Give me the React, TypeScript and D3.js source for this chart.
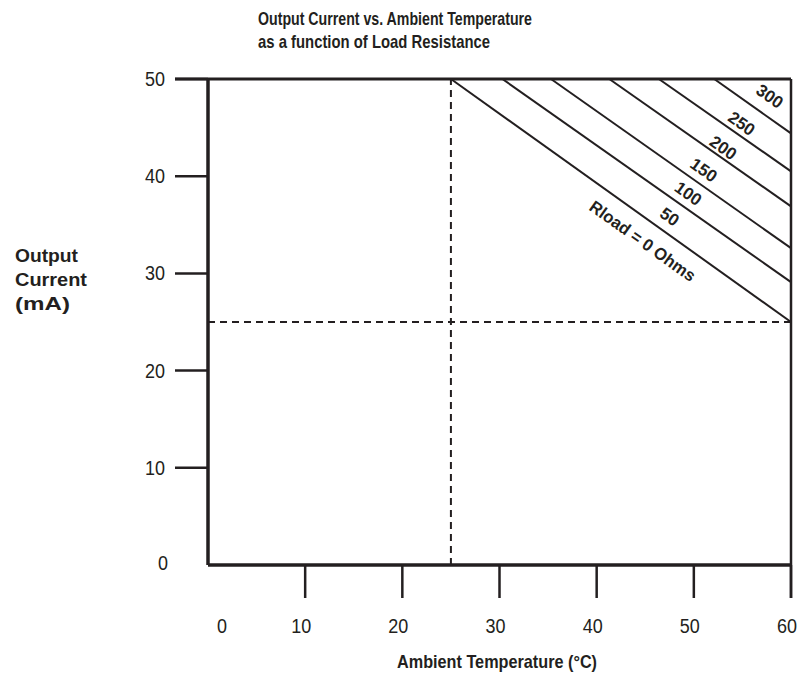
import React from "react";
import * as d3 from "d3";

const xTickValues = [0, 10, 20, 30, 40, 50, 60];
const yTickValues = [0, 10, 20, 30, 40, 50];

// Each load-resistance boundary: temperature where it meets 50 mA, and current at 60 °C
const rloadStartTemp = [25, 30.3, 35.3, 41.3, 46.4, 52.1];
const rloadEndCurrent = [25, 29.1, 32.6, 36.9, 40.5, 44.4];

const labelText = ["Rload = 0 Ohms", "50", "100", "150", "200", "250", "300"];
const labelTemp = [44.7, 47.5, 49.4, 51.0, 53.0, 54.9, 57.8];
const labelCurrent = [33.3, 35.8, 38.2, 40.6, 42.9, 45.4, 48.2];

const deratingTemp = 25;
const deratingCurrent = 25;

const titleLines = ["Output Current vs. Ambient Temperature", "as a function of Load Resistance"];
const yLabelLines = ["Output", "Current", "(mA)"];
const xLabel = "Ambient Temperature (°C)";

const FONT = "'Liberation Sans', Arial, Helvetica, sans-serif";
const INK = "#231f20";

export default function App() {
  const W = 799, H = 680;
  const x = d3.scaleLinear().domain([0, 60]).range([208, 791]);
  const y = d3.scaleLinear().domain([0, 50]).range([565, 79]);
  const line = d3.line<[number, number]>().x(d => x(d[0])).y(d => y(d[1]));

  const angle = (Math.atan2(y(25) - y(50), x(60) - x(25)) * 180) / Math.PI;

  return (
    <svg width={W} height={H} style={{ position: "absolute", left: 0, top: 0, background: "#fff" }} fontFamily={FONT}>
      {/* title */}
      <text x={258} y={25} fontSize={18.5} fontWeight="bold" fill={INK} textLength={274} lengthAdjust="spacingAndGlyphs">{titleLines[0]}</text>
      <text x={258} y={48} fontSize={18.5} fontWeight="bold" fill={INK} textLength={232} lengthAdjust="spacingAndGlyphs">{titleLines[1]}</text>

      {/* y label */}
      {yLabelLines.map((t, i) => (
        <text key={t} x={15} y={262 + i * 24} fontSize={19} fontWeight="bold" fill={INK}
          textLength={[63, 72, 55][i]} lengthAdjust="spacingAndGlyphs">{t}</text>
      ))}

      {/* x label */}
      <text x={397} y={668} fontSize={19} fontWeight="bold" fill={INK} textLength={200} lengthAdjust="spacingAndGlyphs">{xLabel}</text>

      {/* dashed derating lines */}
      <path d={line([[deratingTemp, 0], [deratingTemp, 50]]) || ""} stroke={INK} strokeWidth={2} strokeDasharray="7,5" fill="none" />
      <path d={line([[0, deratingCurrent], [60, deratingCurrent]]) || ""} stroke={INK} strokeWidth={2} strokeDasharray="7,5" fill="none" />

      {/* load resistance lines */}
      {rloadStartTemp.map((t, i) => (
        <path key={i} d={line([[t, 50], [60, rloadEndCurrent[i]]]) || ""} stroke={INK} strokeWidth={2} fill="none" />
      ))}

      {/* load labels */}
      {labelText.map((t, i) => (
        <text key={t} x={x(labelTemp[i])} y={y(labelCurrent[i])} fontSize={17} fontWeight="bold" fill={INK}
          textAnchor="middle" dominantBaseline="central"
          textLength={t.length > 3 ? 126 : t.length * 9.5} lengthAdjust="spacingAndGlyphs"
          transform={`rotate(${angle} ${x(labelTemp[i])} ${y(labelCurrent[i])})`}>{t}</text>
      ))}

      {/* frame */}
      <line x1={x(0) - 33} x2={x(60)} y1={y(50)} y2={y(50)} stroke={INK} strokeWidth={3} />
      <line x1={x(60)} x2={x(60)} y1={y(50)} y2={y(0) + 33} stroke={INK} strokeWidth={2.5} />
      <line x1={x(0)} x2={x(0)} y1={y(50) - 1} y2={y(0)} stroke={INK} strokeWidth={3.5} />
      <line x1={x(0)} x2={x(60)} y1={y(0)} y2={y(0)} stroke={INK} strokeWidth={3.5} />

      {/* y ticks */}
      {yTickValues.filter(v => v > 0).map(v => (
        <line key={v} x1={x(0) - 33} x2={x(0)} y1={y(v)} y2={y(v)} stroke={INK} strokeWidth={2.5} />
      ))}
      {yTickValues.map(v => (
        <text key={v} x={v === 0 ? 168 : 165} y={v === 0 ? y(v) - 2 : y(v)} fontSize={20} fill={INK}
          textAnchor="end" dominantBaseline="central"
          textLength={String(v).length * 10} lengthAdjust="spacingAndGlyphs">{v}</text>
      ))}

      {/* x ticks */}
      {xTickValues.filter(v => v > 0).map(v => (
        <line key={v} x1={x(v)} x2={x(v)} y1={y(0)} y2={y(0) + 33} stroke={INK} strokeWidth={2.5} />
      ))}
      {xTickValues.map(v => (
        <text key={v} x={v === 0 ? x(v) + 14 : x(v) - 4} y={626} fontSize={20} fill={INK}
          textAnchor="middle" dominantBaseline="central"
          textLength={String(v).length * 10} lengthAdjust="spacingAndGlyphs">{v}</text>
      ))}
    </svg>
  );
}
